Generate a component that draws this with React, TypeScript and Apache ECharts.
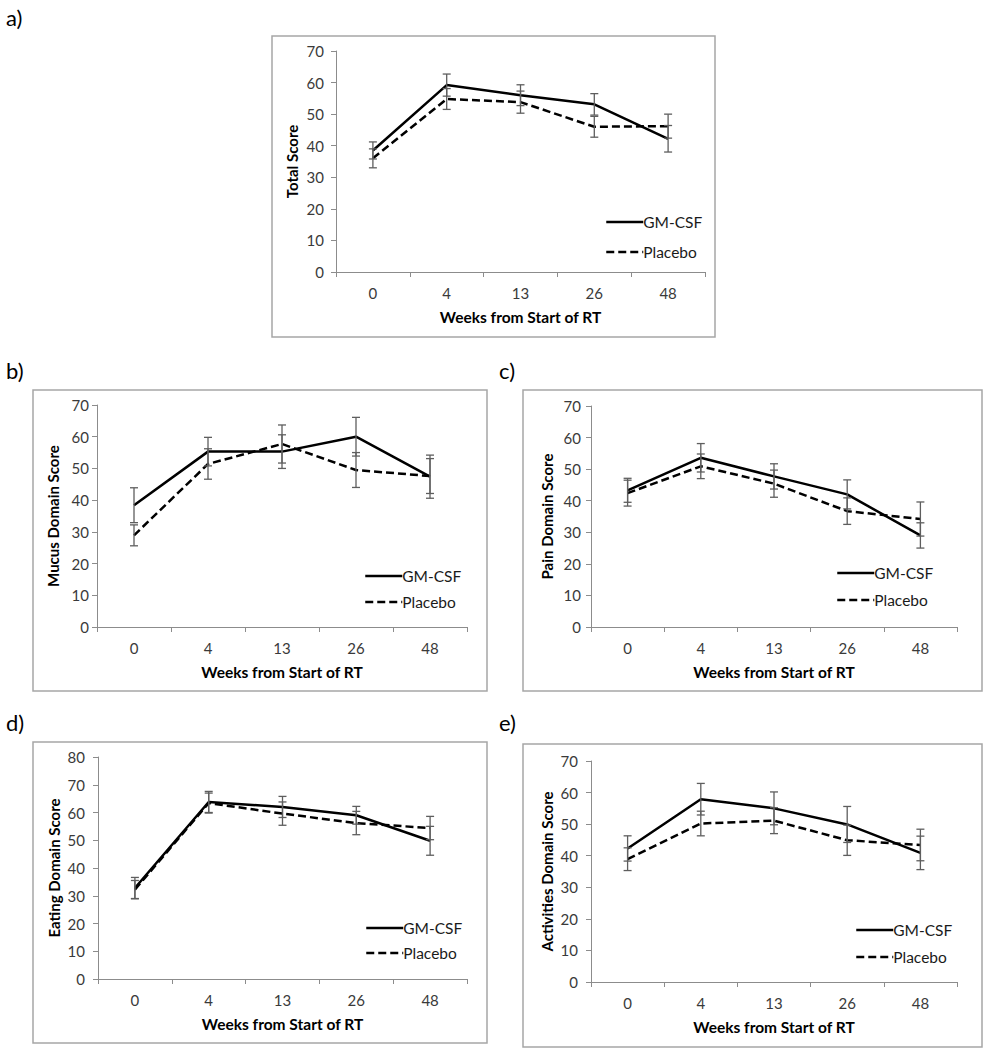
import React, { useEffect, useRef } from "react";
import * as echarts from "echarts";

const weeks = ["0", "4", "13", "26", "48"];

const totalGM = [38.5, 59.2, 56, 53.1, 42.2];
const totalGMErr = [2.7, 3.5, 3.3, 3.4, 4.2];
const totalPl = [36, 54.8, 53.8, 46, 46.2];
const totalPlErr = [3, 3.3, 3.5, 3.3, 3.8];

const mucusGM = [38.4, 55.3, 55.3, 60, 47.4];
const mucusGMErr = [5.5, 4.5, 5.3, 6.1, 6.8];
const mucusPl = [28.9, 51.4, 57.7, 49.5, 47.6];
const mucusPlErr = [3.3, 4.8, 6, 5.5, 5.5];

const painGM = [43.3, 53.6, 47.7, 42, 29];
const painGMErr = [3.8, 4.5, 4, 4.6, 4];
const painPl = [42.4, 50.9, 45.4, 36.7, 34.2];
const painPlErr = [4.1, 3.9, 4.3, 4.2, 5.4];

const eatingGM = [32.8, 63.8, 62, 59, 49.8];
const eatingGMErr = [3.8, 3.8, 3.8, 3.2, 5.2];
const eatingPl = [32.2, 63.4, 59.6, 56.2, 54.4];
const eatingPlErr = [3.3, 3.6, 4.2, 4.2, 4.2];

const activGM = [42.3, 57.9, 55, 49.9, 40.9];
const activGMErr = [4, 5, 5.2, 5.7, 5.3];
const activPl = [38.9, 50.2, 51.1, 44.9, 43.4];
const activPlErr = [3.6, 3.9, 4.1, 4.8, 5];

const yTitles = [
  "Total Score",
  "Mucus Domain Score",
  "Pain Domain Score",
  "Eating Domain Score",
  "Activities Domain Score",
];
const panelLabels = ["a)", "b)", "c)", "d)", "e)"];
const xTitle = "Weeks from Start of RT";
const seriesNames = ["GM-CSF", "Placebo"];
const yMaxes = [70, 70, 70, 80, 70];

const panelData = [
  [totalGM, totalGMErr, totalPl, totalPlErr],
  [mucusGM, mucusGMErr, mucusPl, mucusPlErr],
  [painGM, painGMErr, painPl, painPlErr],
  [eatingGM, eatingGMErr, eatingPl, eatingPlErr],
  [activGM, activGMErr, activPl, activPlErr],
];

// layout (pixels)
const grids = [
  { left: 336, top: 51, width: 369, height: 221 },
  { left: 97, top: 405, width: 370, height: 222 },
  { left: 591, top: 406, width: 366, height: 221 },
  { left: 98, top: 757, width: 369, height: 222 },
  { left: 591, top: 761, width: 366, height: 221 },
];
const boxes = [
  [272, 36, 443, 301],
  [33, 390, 454, 301],
  [523, 390, 459, 301],
  [33, 742, 454, 301],
  [523, 744, 459, 303],
];
const labelPos = [
  [6, 17],
  [6, 370],
  [499, 370],
  [6, 722],
  [499, 722],
];
const legendPos = [
  { left: 605, top: 214, gap: 14 },
  { left: 364, top: 568, gap: 10 },
  { left: 836, top: 565, gap: 11 },
  { left: 365, top: 920, gap: 9 },
  { left: 855, top: 922, gap: 11 },
];
const yLabelMargins = [12, 8, 10, 13, 13];

const FONT = "Lato, 'Open Sans', sans-serif";

function errRender(params: any, api: any) {
  const i = api.value(0);
  const lo = api.coord([i, api.value(1)]);
  const hi = api.coord([i, api.value(2)]);
  const w = 4;
  const style = { stroke: "#5e5e5e", lineWidth: 1.3 };
  return {
    type: "group",
    children: [
      { type: "line", shape: { x1: hi[0], y1: hi[1], x2: lo[0], y2: lo[1] }, style },
      { type: "line", shape: { x1: hi[0] - w, y1: hi[1], x2: hi[0] + w, y2: hi[1] }, style },
      { type: "line", shape: { x1: lo[0] - w, y1: lo[1], x2: lo[0] + w, y2: lo[1] }, style },
    ],
  };
}

export default function App() {
  const ref = useRef<HTMLDivElement>(null);
  useEffect(() => {
    if (!ref.current) return;
    const chart = echarts.init(ref.current, undefined, { renderer: "svg" });

    const xAxis: any[] = [];
    const yAxis: any[] = [];
    const series: any[] = [];
    const legend: any[] = [];
    const graphic: any[] = [];

    panelData.forEach((pd, p) => {
      const [gm, gmErr, pl, plErr] = pd;
      xAxis.push({
        type: "category",
        gridIndex: p,
        data: weeks,
        boundaryGap: true,
        name: xTitle,
        nameLocation: "middle",
        nameGap: 37,
        nameTextStyle: { fontFamily: FONT, fontWeight: "bold", fontSize: 15.5, color: "#000" },
        axisLine: { show: true, lineStyle: { color: "#8c8c8c", width: 1 } },
        axisTick: { show: true, length: 5, lineStyle: { color: "#8c8c8c" } },
        axisLabel: { fontFamily: FONT, fontSize: 15, color: "#3a3a3a", margin: 13 },
        splitLine: { show: false },
      });
      yAxis.push({
        type: "value",
        gridIndex: p,
        min: 0,
        max: yMaxes[p],
        interval: 10,
        name: yTitles[p],
        nameLocation: "middle",
        nameGap: 37,
        nameTextStyle: { fontFamily: FONT, fontWeight: "bold", fontSize: 15, color: "#000" },
        axisLine: { show: true, lineStyle: { color: "#8c8c8c", width: 1 } },
        axisTick: { show: true, length: 5, lineStyle: { color: "#8c8c8c" } },
        axisLabel: { fontFamily: FONT, fontSize: 15, color: "#3a3a3a", margin: yLabelMargins[p] },
        splitLine: { show: false },
      });
      series.push({
        name: seriesNames[0],
        type: "line",
        xAxisIndex: p,
        yAxisIndex: p,
        data: gm,
        symbol: "none",
        lineStyle: { color: "#000", width: 2.5, type: "solid" },
        itemStyle: { color: "#000" },
        z: 3,
      });
      series.push({
        name: seriesNames[1],
        type: "line",
        xAxisIndex: p,
        yAxisIndex: p,
        data: pl,
        symbol: "none",
        lineStyle: { color: "#000", width: 2.5, type: [8, 4] },
        itemStyle: { color: "#000" },
        z: 3,
      });
      series.push({
        name: "err-gm-" + p,
        type: "custom",
        xAxisIndex: p,
        yAxisIndex: p,
        renderItem: errRender,
        encode: { x: 0, y: [1, 2] },
        data: gm.map((v, i) => [i, v - gmErr[i], v + gmErr[i]]),
        z: 4,
      });
      series.push({
        name: "err-pl-" + p,
        type: "custom",
        xAxisIndex: p,
        yAxisIndex: p,
        renderItem: errRender,
        encode: { x: 0, y: [1, 2] },
        data: pl.map((v, i) => [i, v - plErr[i], v + plErr[i]]),
        z: 4,
      });
      legend.push({
        data: seriesNames,
        orient: "vertical",
        left: legendPos[p].left,
        top: legendPos[p].top,
        itemWidth: 37,
        itemHeight: 14,
        itemGap: legendPos[p].gap,
        padding: 0,
        selectedMode: false,
        itemStyle: { opacity: 0, borderWidth: 0 },
        lineStyle: { width: 2.5 },
        textStyle: { fontFamily: FONT, fontSize: 15.5, color: "#1a1a1a", padding: [0, 0, 0, -5] },
      });
      const b = boxes[p];
      graphic.push({
        type: "rect",
        shape: { x: b[0], y: b[1], width: b[2], height: b[3] },
        style: { fill: "none", stroke: "#a6a6a6", lineWidth: 1.5 },
        silent: true,
      });
      graphic.push({
        type: "text",
        x: labelPos[p][0],
        y: labelPos[p][1],
        style: {
          text: panelLabels[p],
          fontFamily: FONT,
          fontSize: 22,
          fill: "#000",
          verticalAlign: "middle",
          align: "left",
        },
        silent: true,
      });
    });

    chart.setOption({
      animation: false,
      backgroundColor: "#fff",
      grid: grids.map((g) => ({ ...g, containLabel: false })),
      xAxis,
      yAxis,
      series,
      legend,
      graphic,
    });
    return () => chart.dispose();
  }, []);
  return (
    <div
      ref={ref}
      style={{ position: "absolute", left: 0, top: 0, width: 986, height: 1050, background: "#fff" }}
    />
  );
}
